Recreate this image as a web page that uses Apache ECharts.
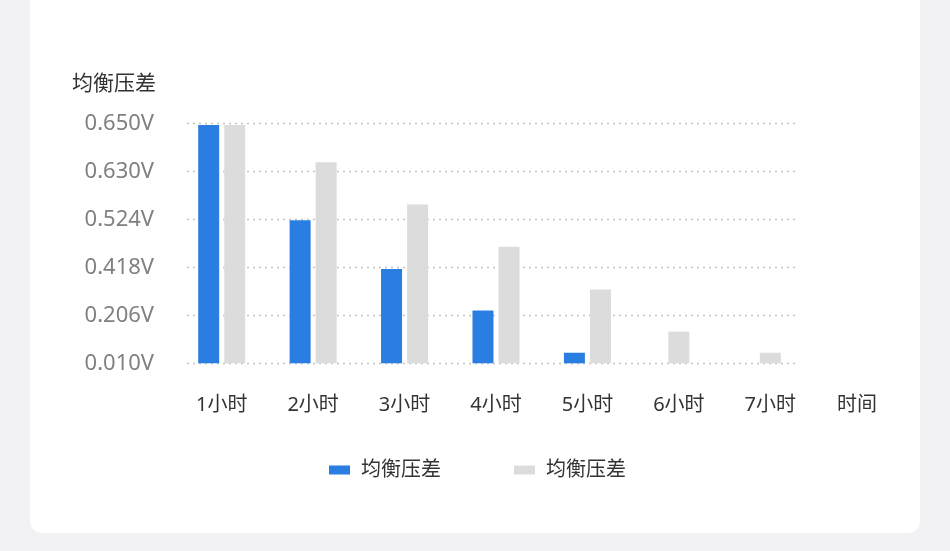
<!DOCTYPE html>
<html>
<head>
<meta charset="utf-8">
<script src="https://cdn.jsdelivr.net/npm/echarts@6/dist/echarts.min.js"></script>
<style>
  html, body { margin: 0; padding: 0; width: 950px; height: 551px; background: #f2f2f4; overflow: hidden; }
  #card { position: absolute; left: 30px; top: -20px; width: 890px; height: 553px; background: #ffffff; border-radius: 12px; }
  #chart { position: absolute; left: 0; top: 0; width: 950px; height: 551px; }
</style>
</head>
<body>
<div id="card"></div>
<div id="chart"></div>
<script>
// categories (x axis)
const categories = ['1小时', '2小时', '3小时', '4小时', '5小时', '6小时', '7小时'];
// y axis tick labels (evenly spaced levels 0..5)
const yTickLabels = ['0.010V', '0.206V', '0.418V', '0.524V', '0.630V', '0.650V'];
// series values, in tick-level units
const blueValues = [4.965, 2.98, 1.965, 1.10, 0.22, null, null];
const grayValues = [4.965, 4.19, 3.31, 2.43, 1.54, 0.66, 0.22];
const seriesName = '均衡压差';
const xAxisName = '时间';

const grayPaired = grayValues.map((v, i) => blueValues[i] == null ? '-' : v);
const graySolo = grayValues.map((v, i) => blueValues[i] == null ? v : '-');
const blueData = blueValues.map(v => v == null ? '-' : v);

const FONT = '"Noto Sans", "Noto Sans CJK SC", sans-serif';
const BLUE = '#2a7de1';
const GRAY = '#dcdcdc';
const gridTop = 123.3, gridBottom = 551 - 363.3;

const chart = echarts.init(document.getElementById('chart'), null, { renderer: 'canvas' });
chart.setOption({
  backgroundColor: 'transparent',
  animation: false,
  textStyle: { fontFamily: FONT },
  grid: [
    { left: 187, right: 950 - 797, top: gridTop, bottom: gridBottom },
    { left: 176, right: 950 - 816, top: gridTop, bottom: gridBottom }
  ],
  legend: {
    left: 329, top: 456, padding: 0,
    icon: 'rect', itemWidth: 21, itemHeight: 9, itemGap: 73,
    data: [seriesName + '1', seriesName + '2'],
    formatter: () => seriesName,
    textStyle: { fontSize: 20, color: '#333', fontFamily: FONT, lineHeight: 28, padding: [0, 0, 0, 6] }
  },
  xAxis: [
    { gridIndex: 0, type: 'value', show: false, min: 0, max: 1 },
    {
      gridIndex: 1, type: 'category', data: categories,
      name: xAxisName, nameLocation: 'end', nameGap: 21,
      nameTextStyle: { fontSize: 20, color: '#333', fontFamily: FONT, verticalAlign: 'top', padding: [32, 0, 0, 0] },
      axisLine: { show: false }, axisTick: { show: false },
      axisLabel: { fontSize: 20, color: '#333', margin: 32, fontFamily: FONT }
    },
    { gridIndex: 1, type: 'category', data: categories, show: false }
  ],
  yAxis: [
    {
      gridIndex: 0, type: 'value', min: 0, max: 5, interval: 1,
      name: seriesName, nameLocation: 'end', nameGap: 39,
      nameTextStyle: { fontSize: 21, color: '#333', fontFamily: FONT, align: 'right', verticalAlign: 'middle', padding: [0, 31, 0, 0] },
      axisLine: { show: false }, axisTick: { show: false },
      axisLabel: { fontSize: 22, color: '#808080', margin: 33, fontFamily: FONT, padding: [4, 0, 0, 0], formatter: (v) => yTickLabels[Math.round(v)] },
      splitLine: { show: true, lineStyle: { color: '#c4c4c4', type: [2, 4], width: 1.3 } }
    },
    { gridIndex: 1, type: 'value', min: 0, max: 5, interval: 1, show: false, splitLine: { show: false } }
  ],
  series: [
    { name: seriesName + '1', type: 'bar', xAxisIndex: 1, yAxisIndex: 1, data: blueData, barWidth: 21, barGap: '24%', itemStyle: { color: BLUE } },
    { name: seriesName + '2', type: 'bar', xAxisIndex: 1, yAxisIndex: 1, data: grayPaired, barWidth: 21, barGap: '24%', itemStyle: { color: GRAY } },
    { name: seriesName + '2', type: 'bar', xAxisIndex: 2, yAxisIndex: 1, data: graySolo, barWidth: 21, itemStyle: { color: GRAY } }
  ]
});
</script>
</body>
</html>
